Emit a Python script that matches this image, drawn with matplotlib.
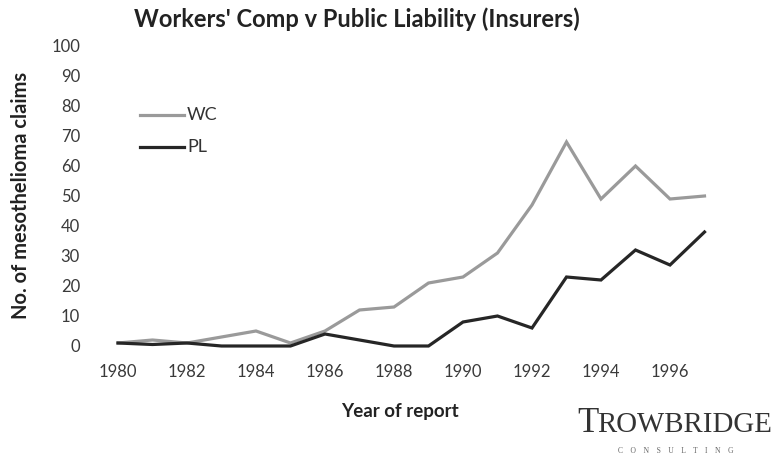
import matplotlib
matplotlib.use("Agg")
import matplotlib.pyplot as plt

years = list(range(1980, 1998))
wc = [1, 2, 1, 3, 5, 1, 5, 12, 13, 21, 23, 31, 47, 68, 49, 60, 49, 50]
pl = [1, 0.5, 1, 0, 0, 0, 4, 2, 0, 0, 8, 10, 6, 23, 22, 32, 27, 38]
xticks = list(range(1980, 1997, 2))
yticks = list(range(0, 101, 10))

plt.rcParams['font.family'] = ['Lato', 'DejaVu Sans']

fig = plt.figure(figsize=(7.8, 4.59), dpi=100)
W, H = 780, 459
x0px, x1px = 118 - 34.5, 118 + 19 * 34.5
ax = fig.add_axes([x0px / W, (H - 346) / H, (x1px - x0px) / W, 300 / H])
ax.set_xlim(1979, 1999)
ax.set_ylim(0, 100)

ax.plot(years, wc, color='#9a9a9a', lw=2.3, solid_joinstyle='miter', clip_on=False)
ax.plot(years, pl, color='#262626', lw=2.3, solid_joinstyle='miter', clip_on=False)

for s in ax.spines.values():
    s.set_visible(False)
ax.set_xticks(xticks)
ax.set_yticks(yticks)
ax.tick_params(length=0, labelsize=12, colors='#3a3a3a')
ax.tick_params(axis='x', pad=13)
ax.tick_params(axis='y', pad=2.5)

ax.set_xlabel('Year of report', fontsize=13.5, fontweight='bold', color='#222222')
ax.xaxis.set_label_coords((400 - x0px) / (x1px - x0px), -(403 - 346) / 300)
ax.set_ylabel('No. of mesothelioma claims', fontsize=14.5, fontweight='bold', color='#222222')
ax.yaxis.set_label_coords((31 - x0px) / (x1px - x0px), (346 - 195) / 300)

fig.text(357 / W, 1 - 19 / H, "Workers' Comp v Public Liability (Insurers)",
         ha='center', va='center', fontsize=17, fontweight='bold', color='#222222')

# legend
fig.add_artist(plt.Line2D([140 / W, 184 / W], [1 - 115 / H, 1 - 115 / H], color='#9a9a9a', lw=2.3))
fig.text(187 / W, 1 - 115 / H, 'WC', ha='left', va='center', fontsize=13, color='#333333')
fig.add_artist(plt.Line2D([140 / W, 184 / W], [1 - 147 / H, 1 - 147 / H], color='#262626', lw=2.3))
fig.text(187 / W, 1 - 147 / H, 'PL', ha='left', va='center', fontsize=13, color='#333333')

# logo
serif = ['Liberation Serif', 'DejaVu Serif']
fig.text(577 / W, 1 - 432 / H, 'T', ha='left', va='baseline', fontsize=25,
         color='#333333', family=serif)
fig.text(597 / W, 1 - 432 / H, 'ROWBRIDGE', ha='left', va='baseline', fontsize=20.8,
         color='#333333', family=serif)
fig.text(676 / W, 1 - 451 / H, 'C    O    N    S    U    L    T    I    N    G', ha='center', va='center',
         fontsize=5.5, color='#666666', family=serif)

fig.savefig('out.png', dpi=100)
